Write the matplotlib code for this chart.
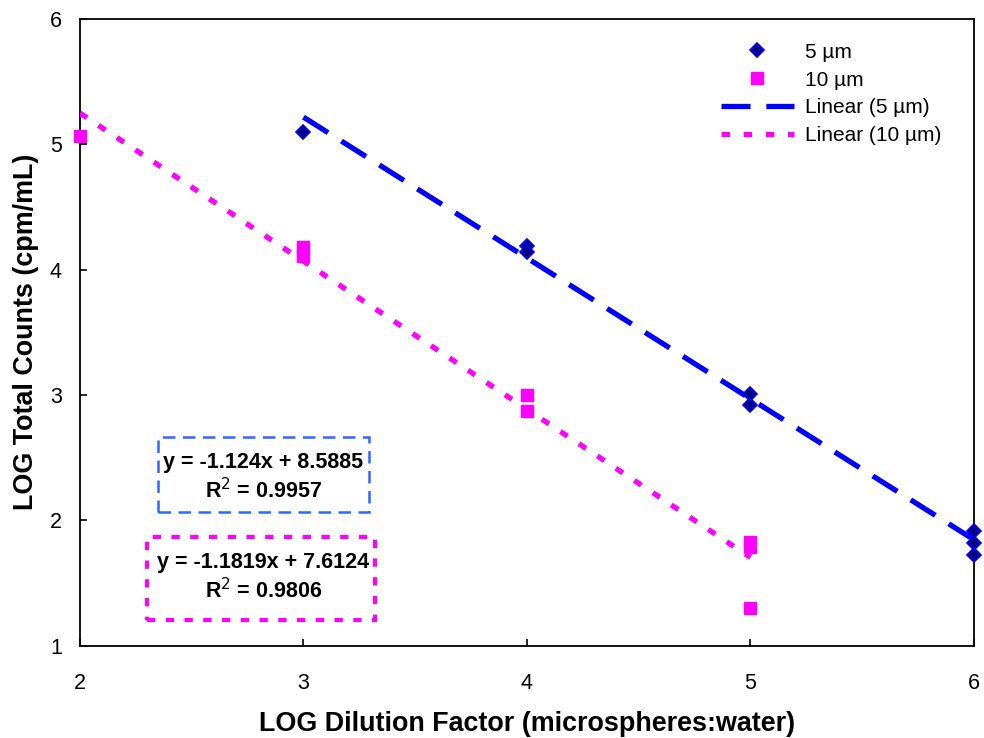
import matplotlib.pyplot as plt

plt.rcParams['font.family'] = ['Liberation Sans', 'DejaVu Sans']

# 5 um microspheres (log dilution, log counts)
x5 = [3, 4, 4, 5, 5, 6, 6, 6]
y5 = [5.10, 4.19, 4.14, 3.01, 2.92, 1.91, 1.82, 1.72]

# 10 um microspheres
x10 = [2, 3, 3, 4, 4, 5, 5, 5]
y10 = [5.07, 4.18, 4.11, 3.00, 2.87, 1.83, 1.79, 1.30]

# trendlines as printed on the chart
fit5 = (-1.124, 8.5885, 0.9957)
fit10 = (-1.1819, 7.6124, 0.9806)

fig = plt.figure(figsize=(9.84, 7.38), dpi=100)
ax = fig.add_axes([0.0813, 0.1253, 0.9085, 0.849])

ax.plot(x5, y5, 'D', color='#000080', mec='#0000FF', mew=1.2, ms=7, label='5 µm',
        zorder=4, clip_on=False)
ax.plot(x10, y10, 's', color='#FF00FF', ms=8.5, label='10 µm', zorder=4, clip_on=False)

xs5 = [min(x5), max(x5)]
ax.plot(xs5, [fit5[0] * v + fit5[1] for v in xs5], color='#0000FF', lw=3.8,
        dashes=(5.5, 3), label='Linear (5 µm)', zorder=3)
xs10 = [min(x10), max(x10)]
ax.plot(xs10, [fit10[0] * v + fit10[1] for v in xs10], color='#FF00FF', lw=3.8,
        dashes=(1.6, 2.6), label='Linear (10 µm)', zorder=3)

# equation boxes
ax.add_patch(plt.Rectangle((0.087, 0.213), 0.236, 0.120, transform=ax.transAxes,
                           fill=False, ec='#3366FF', lw=1.8, ls=(0, (5, 3))))
ax.text(0.205, 0.292, 'y = -1.124x + 8.5885', transform=ax.transAxes, ha='center',
        va='center', fontsize=15.5, fontweight='bold')
ax.text(0.205, 0.247, 'R$^2$ = 0.9957', transform=ax.transAxes, ha='center',
        va='center', fontsize=15.5, fontweight='bold')
ax.add_patch(plt.Rectangle((0.075, 0.041), 0.255, 0.132, transform=ax.transAxes,
                           fill=False, ec='#FF00FF', lw=3, ls=(0, (2, 2.5))))
ax.text(0.205, 0.133, 'y = -1.1819x + 7.6124', transform=ax.transAxes, ha='center',
        va='center', fontsize=15.5, fontweight='bold')
ax.text(0.205, 0.088, 'R$^2$ = 0.9806', transform=ax.transAxes, ha='center',
        va='center', fontsize=15.5, fontweight='bold')

ax.set_xlim(2, 6)
ax.set_ylim(1, 6)
ax.set_xticks([2, 3, 4, 5, 6])
ax.set_yticks([1, 2, 3, 4, 5, 6])
ax.tick_params(direction='in', length=5, width=1.2, labelsize=15.5)
ax.tick_params(axis='x', pad=20)
ax.tick_params(axis='y', pad=13)
for s in ax.spines.values():
    s.set_linewidth(1.3)

ax.set_xlabel('LOG Dilution Factor (microspheres:water)', fontsize=19.4, fontweight='bold', labelpad=12)
ax.set_ylabel('LOG Total Counts (cpm/mL)', fontsize=19.4, fontweight='bold', labelpad=8)

ax.legend(loc='upper left', bbox_to_anchor=(0.717, 0.962), frameon=False, fontsize=15,
          handlelength=3.5, handletextpad=0.55, labelspacing=0.42, borderaxespad=0,
          borderpad=0)

fig.savefig('out.png', dpi=100)
